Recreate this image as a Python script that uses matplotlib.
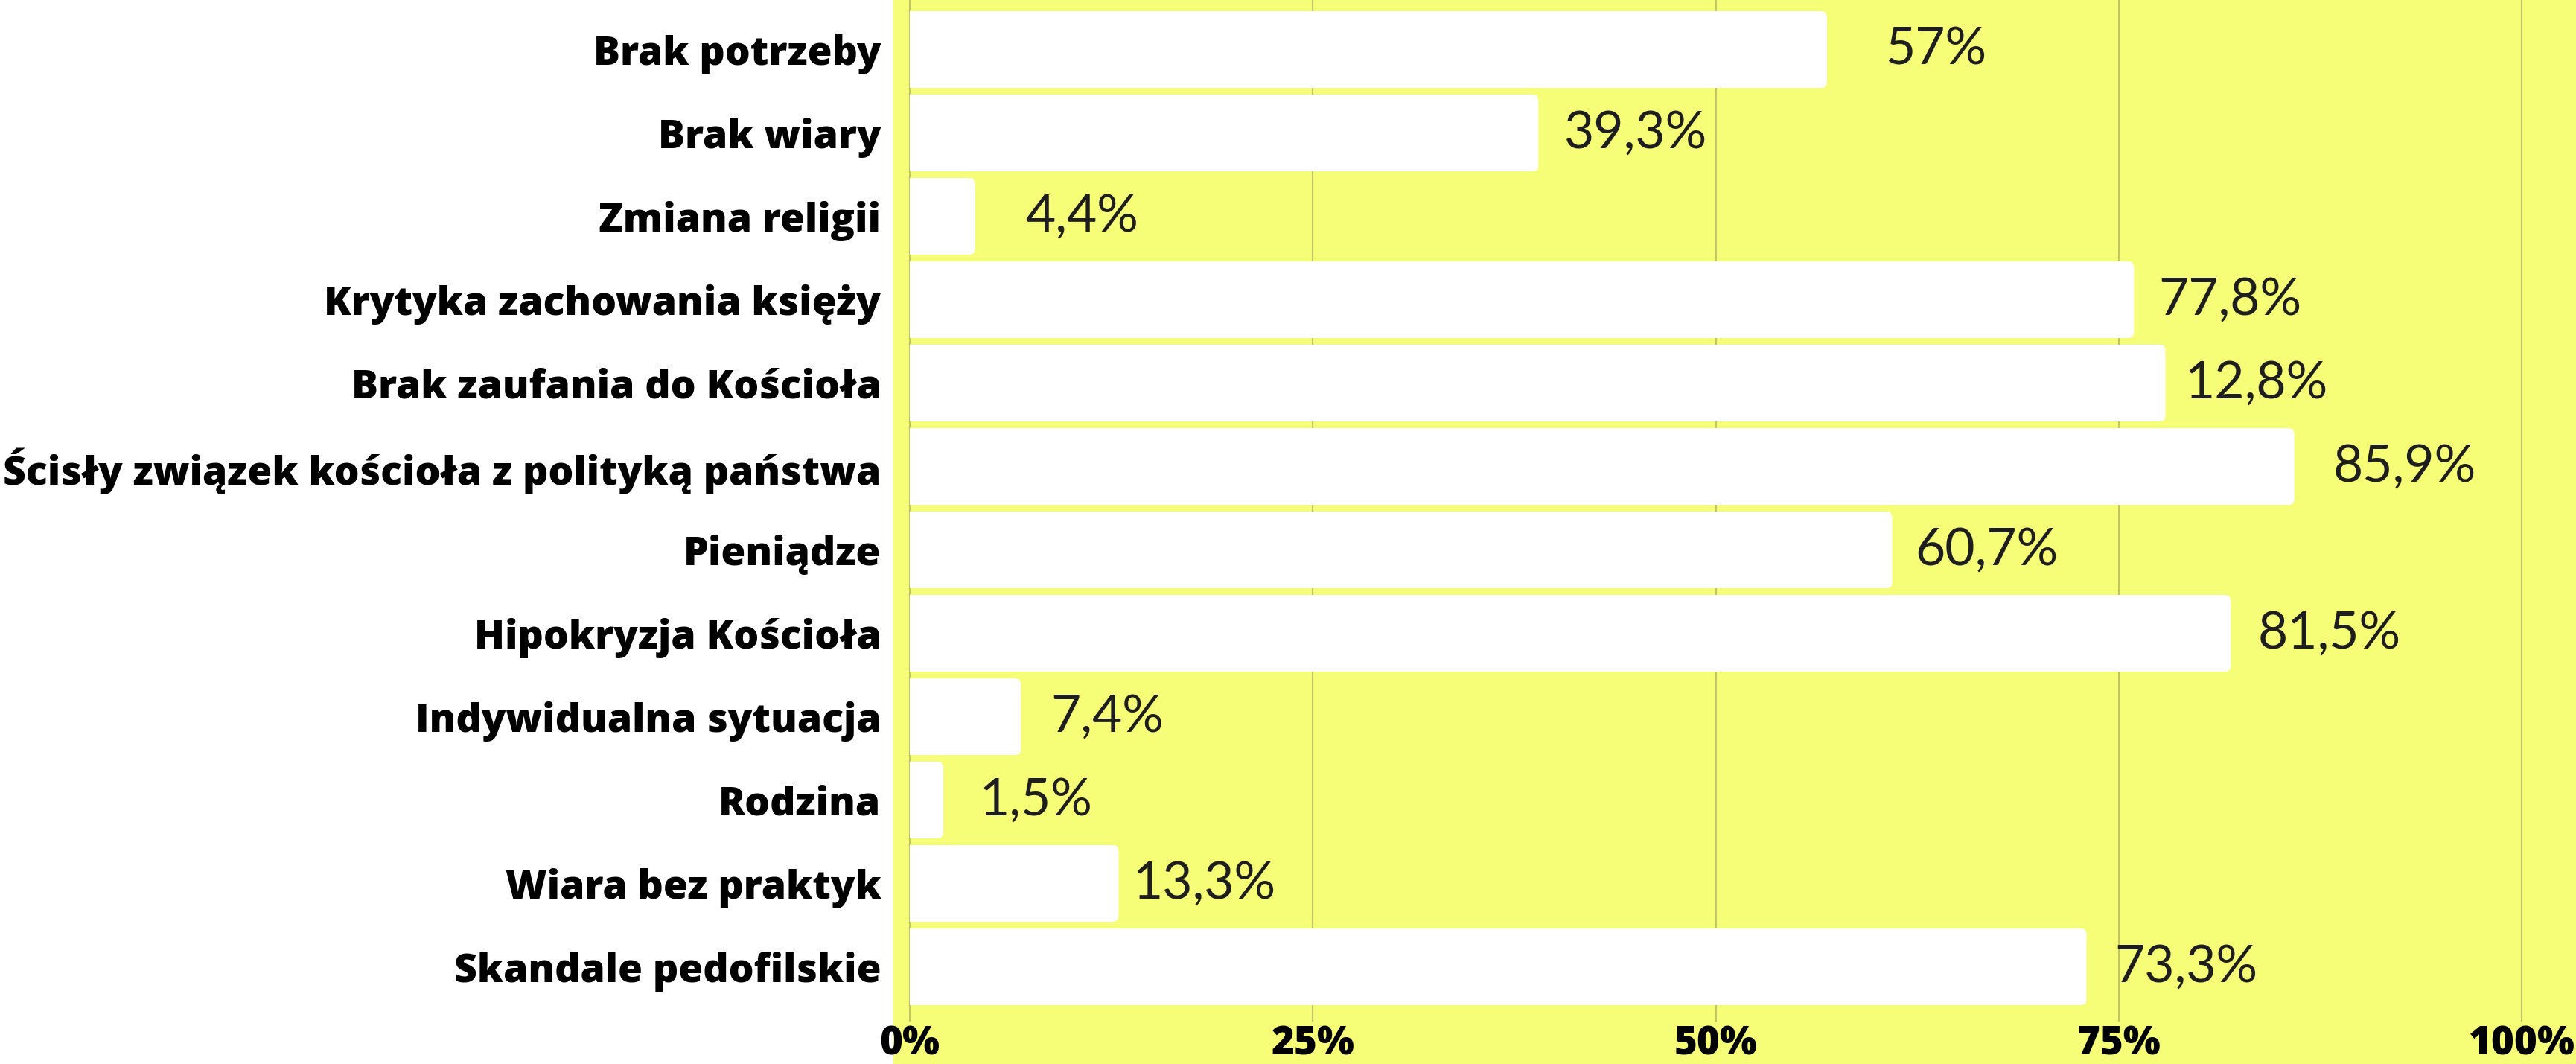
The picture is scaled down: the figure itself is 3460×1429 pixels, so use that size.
import matplotlib
matplotlib.use("Agg")
import matplotlib.pyplot as plt
from matplotlib.patches import Rectangle, FancyBboxPatch

# data (bar lengths do not always match their labels)
categories = ["Brak potrzeby", "Brak wiary", "Zmiana religii",
              "Krytyka zachowania księży", "Brak zaufania do Kościoła",
              "Ścisły związek kościoła z polityką państwa", "Pieniądze",
              "Hipokryzja Kościoła", "Indywidualna sytuacja", "Rodzina",
              "Wiara bez praktyk", "Skandale pedofilskie"]
bar_values = [56.9, 39.0, 4.05, 75.95, 77.9, 85.9, 60.95, 81.95, 6.9, 2.08, 12.95, 73.0]
value_labels = ["57%", "39,3%", "4,4%", "77,8%", "12,8%", "85,9%", "60,7%",
                "81,5%", "7,4%", "1,5%", "13,3%", "73,3%"]
ticks = [0, 25, 50, 75, 100]
tick_labels = ["0%", "25%", "50%", "75%", "100%"]

# gap between bar end and its label (in % units), as placed in the original
label_pad = [3.6, 1.6, 3.1, 1.5, 1.2, 2.4, 1.4, 1.7, 1.85, 2.25, 0.9, 1.75]

YELLOW = "#f6fd77"
W, H = 3460, 1429
fig = plt.figure(figsize=(W / 100, H / 100), dpi=100)
fig.patch.set_facecolor("white")
bg = Rectangle((1200 / W, 0), 1 - 1200 / W, 1, transform=fig.transFigure,
               color=YELLOW, zorder=-5)
fig.patches.append(bg)

ax = fig.add_axes([1200 / W, (H - 1372) / H, (W - 1200) / W, 1372 / H])
ax.patch.set_alpha(0)
ax.set_xlim(-1.016, 103.37)
ax.set_ylim(11.656, -0.594)

y = list(range(len(categories)))
bars = ax.barh(y, bar_values, height=0.92, color="white", zorder=2)

# round only the right-hand corners (about 8 px), like the original
for r in bars:
    x0, y0, w, h = r.get_x(), r.get_y(), r.get_width(), r.get_height()
    rb = FancyBboxPatch((x0 - 1, y0), w + 1, h,
                        boxstyle="round,pad=0,rounding_size=0.37",
                        mutation_aspect=0.193, facecolor="white",
                        edgecolor="none", zorder=2)
    ax.add_patch(rb)
    rb.set_clip_path(Rectangle((x0, y0), w + 1, h, transform=ax.transData))
    r.set_visible(False)

for i in y:
    ax.text(bar_values[i] + label_pad[i], i, value_labels[i],
            va="center", ha="left", fontsize=50, family="Lato",
            color="#1e1e1e", zorder=3)

ax.set_xticks(ticks)
ax.set_xticklabels(tick_labels, fontsize=38, fontweight="heavy", family="Open Sans")
ax.set_yticks(y)
ax.set_yticklabels(categories, fontsize=38.5, fontweight="heavy", family="Open Sans")
ax.tick_params(axis="both", length=0)
ax.tick_params(axis="y", pad=12)
ax.tick_params(axis="x", pad=3)
for s in ax.spines.values():
    s.set_visible(False)
ax.grid(axis="x", color="#c2c46a", linewidth=1.5, zorder=1)
ax.set_axisbelow(True)

plt.savefig("out.png", dpi=100, facecolor=fig.get_facecolor())
